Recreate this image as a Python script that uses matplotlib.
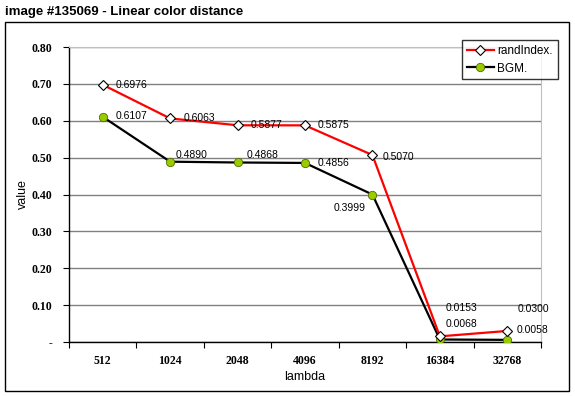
import matplotlib
matplotlib.use("Agg")
import matplotlib.pyplot as plt
from matplotlib.patches import Rectangle
from matplotlib.ticker import FixedLocator

# chart data
lambdas = ["512", "1024", "2048", "4096", "8192", "16384", "32768"]
rand_index = [0.6976, 0.6063, 0.5877, 0.5875, 0.5070, 0.0153, 0.0300]
bgm = [0.6107, 0.4890, 0.4868, 0.4856, 0.3999, 0.0068, 0.0058]
y_ticks = [0.0, 0.1, 0.2, 0.3, 0.4, 0.5, 0.6, 0.7, 0.8]

# label offsets in pixels (dx, dy) and horizontal alignment
rand_offsets = [(13, 0, "left"), (13, 0, "left"), (13, 0, "left"), (13, 0, "left"),
                (10, -2, "left"), (6, 28, "left"), (10, 22, "left")]
bgm_offsets = [(13, 1, "left"), (5, 7, "left"), (9, 7, "left"), (13, 0, "left"),
               (-7, -13, "right"), (6, 15, "left"), (9, 10, "left")]

plt.rcParams['font.family'] = ['Liberation Sans', 'DejaVu Sans']

W, H = 575, 396
fig = plt.figure(figsize=(W / 100, H / 100), dpi=100)
ax = fig.add_axes([69 / W, 1 - 342 / H, (541 - 69) / W, (342 - 47) / H])

x = list(range(len(lambdas)))
ax.plot(x, rand_index, color="#ff0000", lw=1.6, marker="D", ms=5.5,
        mfc="white", mec="black", mew=0.8, label="randIndex.", zorder=4)
ax.plot(x, bgm, color="black", lw=1.6, marker="o", ms=6,
        mfc="#99cc00", mec="#556b00", mew=0.6, label="BGM.", zorder=3)

for xi, v, (dx, dy, ha) in zip(x, rand_index, rand_offsets):
    ax.annotate(f"{v:.4f}", (xi, v), xytext=(dx, dy), textcoords="offset pixels",
                ha=ha, va="center", fontsize=7.5, zorder=5)
for xi, v, (dx, dy, ha) in zip(x, bgm, bgm_offsets):
    ax.annotate(f"{v:.4f}", (xi, v), xytext=(dx, dy), textcoords="offset pixels",
                ha=ha, va="center", fontsize=7.5, zorder=5)

ax.set_xlim(-0.5, len(lambdas) - 0.5)
ax.set_ylim(0, 0.8)
ax.set_xticks(x)
ax.set_xticklabels(lambdas, fontsize=8.5, fontweight="bold", family="Liberation Serif")
ax.xaxis.set_minor_locator(FixedLocator([i - 0.5 for i in range(len(lambdas) + 1)]))
ax.tick_params(axis="x", which="major", length=0, pad=9)
ax.tick_params(axis="x", which="minor", length=4, direction="out", width=0.8)
ax.set_yticks(y_ticks)
ax.set_yticklabels(["-"] + [f"{t:.2f}" for t in y_ticks[1:]], fontsize=8.5,
                   fontweight="bold", family="Liberation Serif")
ax.tick_params(axis="y", length=4, direction="out", width=0.8, pad=8)

ax.grid(axis="y", color="#808080", lw=1)
ax.set_axisbelow(True)
for side in ["top", "right"]:
    ax.spines[side].set_color("#c0c0c0")
for side in ["left", "bottom"]:
    ax.spines[side].set_color("black")
    ax.spines[side].set_linewidth(1)

ax.set_xlabel("lambda", fontsize=9, labelpad=3)
ax.set_ylabel("value", fontsize=9, labelpad=2)

leg = fig.legend(loc="upper left", bbox_to_anchor=(462 / W, 1 - 40 / H),
                 fontsize=8.5, frameon=True, fancybox=False, borderpad=0.4,
                 handlelength=2.3, handletextpad=0.3, labelspacing=0.5,
                 borderaxespad=0)
leg.get_frame().set_edgecolor("black")
leg.get_frame().set_linewidth(1)

# outer chart frame
fig.patches.append(Rectangle((5 / W, 1 - 391 / H), 564 / W, 369 / H,
                             transform=fig.transFigure, fill=False,
                             edgecolor="black", lw=1))

fig.text(5 / W, 1 - 12 / H, "image #135069 - Linear color distance",
         fontsize=9.5, fontweight="bold", va="center", ha="left")

fig.savefig("out.png", dpi=100)
